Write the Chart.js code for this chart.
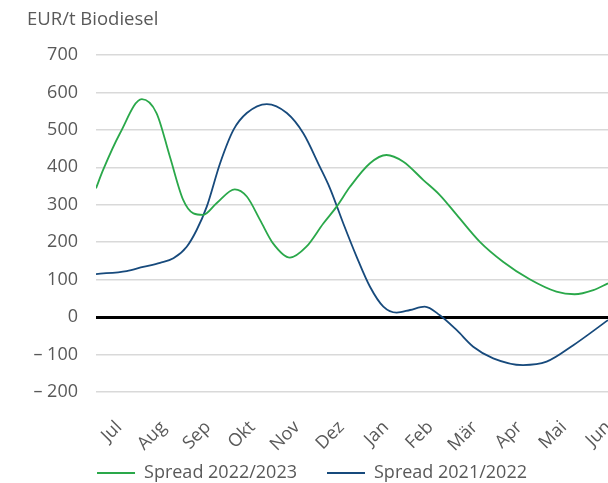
<!DOCTYPE html>
<html>
<head>
<meta charset="utf-8">
<script src="https://cdn.jsdelivr.net/npm/chart.js@4"></script>
<style>
html, body { margin: 0; padding: 0; background: #fff; overflow: hidden; }
.box { position: relative; width: 624px; height: 492px; }
</style>
</head>
<body>
<div class="box"><canvas id="spreadChart"></canvas></div>
<script>
const months = ['Jul', 'Aug', 'Sep', 'Okt', 'Nov', 'Dez', 'Jan', 'Feb', 'Mär', 'Apr', 'Mai', 'Jun'];

// x = months since start of July
const greenX = [0, 0.16, 0.54, 1.03, 1.36, 1.66, 1.96, 2.19, 2.41, 2.71, 3.12, 3.39, 3.69, 3.98, 4.36, 4.73,
    5.11, 5.41, 5.71, 6.16, 6.53, 6.91, 7.36, 7.73, 8.11, 8.63, 9.15, 9.75, 10.35, 10.76, 11.18, 11.51];
const greenY = [344, 393, 491, 582, 545, 429, 313, 277, 273, 304, 341, 322, 259, 197, 159, 188,
    250, 295, 348, 411, 433, 415, 366, 326, 273, 201, 148, 101, 68, 61, 72, 90];

const blueX = [0, 0.69, 1.06, 1.44, 1.74, 2.04, 2.26, 2.49, 2.79, 3.09, 3.39, 3.84, 4.29, 4.66, 5.03, 5.26,
    5.56, 5.86, 6.16, 6.46, 6.76, 7.06, 7.39, 7.73, 8.11, 8.48, 8.93, 9.60, 10.13, 10.73, 11.51];
const blueY = [115, 123, 134, 145, 157, 188, 232, 295, 411, 500, 545, 569, 545, 491, 402, 344,
    250, 161, 81, 28, 12, 19, 28, 5, -35, -79, -110, -128, -119, -75, -8];

const textColor = '#595959';
const fontFamily = '"Open Sans", sans-serif';

function toPoints(xs, ys) {
    return xs.map((x, i) => ({ x: x, y: ys[i] }));
}

// unit label above the y axis
const unitTitle = {
    id: 'unitTitle',
    afterDraw(chart) {
        let c = chart.ctx;
        c.save();
        c.font = '18.5px ' + fontFamily;
        c.fillStyle = textColor;
        c.textBaseline = 'middle';
        c.fillText('EUR/t Biodiesel', 27, 20);
        c.restore();
    }
};

let ctx = document.getElementById('spreadChart').getContext('2d');
let myChart = new Chart(ctx, {
    type: 'line',
    data: {
        datasets: [{
            label: 'Spread 2022/2023',
            data: toPoints(greenX, greenY),
            borderColor: '#2aa84a',
            backgroundColor: '#2aa84a',
            borderWidth: 1.8,
            pointRadius: 0,
            cubicInterpolationMode: 'monotone',
            fill: false
        }, {
            label: 'Spread 2021/2022',
            data: toPoints(blueX, blueY),
            borderColor: '#174a7c',
            backgroundColor: '#174a7c',
            borderWidth: 1.8,
            pointRadius: 0,
            cubicInterpolationMode: 'monotone',
            fill: false
        }]
    },
    options: {
        responsive: true,
        maintainAspectRatio: false,
        animation: false,
        layout: { padding: { top: 55, left: 0, right: 0, bottom: 0 } },
        plugins: {
            tooltip: { enabled: false },
            legend: {
                position: 'bottom',
                labels: {
                    usePointStyle: true,
                    pointStyle: 'line',
                    pointStyleWidth: 38,
                    padding: 30,
                    color: textColor,
                    font: { family: fontFamily, size: 18 }
                }
            }
        },
        scales: {
            x: {
                type: 'linear',
                min: 0,
                max: 11.87,
                grid: { display: false },
                border: { display: false },
                afterBuildTicks: axis => {
                    axis.ticks = months.map((m, i) => ({ value: i + 0.5 }));
                },
                afterFit: axis => { axis.height = 42; },
                ticks: {
                    autoSkip: false,
                    minRotation: 45,
                    maxRotation: 45,
                    // mirrored + negative padding keeps labels below the axis without clipping them
                    mirror: true,
                    padding: -40,
                    labelOffset: 16,
                    color: textColor,
                    font: { family: fontFamily, size: 18 },
                    callback: (v, i) => months[i]
                }
            },
            y: {
                min: -200,
                max: 700,
                border: { display: false },
                afterFit: axis => { axis.width = 96; },
                grid: {
                    drawTicks: false,
                    color: c => c.tick.value === 0 ? '#000000' : '#d9d9d9',
                    lineWidth: c => c.tick.value === 0 ? 3 : 1.5
                },
                ticks: {
                    stepSize: 100,
                    padding: 18,
                    color: textColor,
                    font: { family: fontFamily, size: 18 },
                    callback: v => v < 0 ? '\u2013 ' + (-v) : v
                }
            }
        }
    },
    plugins: [unitTitle]
});
</script>
</body>
</html>
